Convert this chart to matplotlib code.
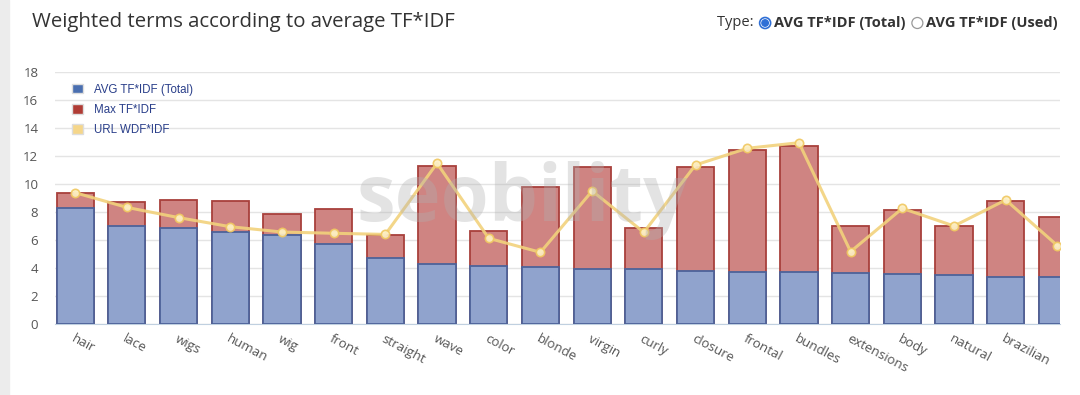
import matplotlib
matplotlib.use("Agg")
import matplotlib.pyplot as plt
from matplotlib.patches import Ellipse, Rectangle
import numpy as np

# data
terms = ["hair", "lace", "wigs", "human", "wig", "front", "straight", "wave",
         "color", "blonde", "virgin", "curly", "closure", "frontal", "bundles",
         "extensions", "body", "natural", "brazilian", ""]
avg_tfidf = [8.26, 7.0, 6.83, 6.6, 6.36, 5.71, 4.74, 4.31, 4.17, 4.07,
             3.95, 3.93, 3.81, 3.69, 3.69, 3.64, 3.57, 3.48, 3.36, 3.33]
max_tfidf = [9.33, 8.74, 8.83, 8.79, 7.86, 8.19, 6.38, 11.31, 6.64, 9.81,
             11.24, 6.88, 11.24, 12.43, 12.74, 7.02, 8.17, 6.98, 8.76, 7.62]
url_wdf = [9.38, 8.33, 7.6, 6.95, 6.57, 6.48, 6.4, 11.48, 6.12, 5.12,
           9.5, 6.55, 11.36, 12.55, 12.95, 5.17, 8.26, 7.0, 8.86, 5.6]
y_ticks = [0, 2, 4, 6, 8, 10, 12, 14, 16, 18]
series_names = ["AVG TF*IDF (Total)", "Max TF*IDF", "URL WDF*IDF"]

W, H = 1080, 395
fig = plt.figure(figsize=(W / 100, H / 100), dpi=100)
fig.patch.set_facecolor("white")

# grey strip on the left side of the page
fig.add_artist(Rectangle((0, 0), 9 / W, 1, transform=fig.transFigure,
                         color="#ececec", zorder=0))

ax = fig.add_axes([55 / W, 71 / H, 1005 / W, 252 / H])
x = np.arange(len(terms))

ax.bar(x, max_tfidf, width=0.72, color="#cf8482", edgecolor="#a8403c",
       linewidth=1.3, zorder=2)
ax.bar(x, avg_tfidf, width=0.72, color="#90a3cd", edgecolor="#4d6299",
       linewidth=1.3, zorder=3)
ax.plot(x, url_wdf, color="#f2d27c", linewidth=2.2, alpha=0.9, zorder=4,
        marker="o", markersize=6, markerfacecolor="#fdf0c6",
        markeredgecolor="#f0c860", markeredgewidth=1.2)

ax.set_xlim(-0.39, 19.05)
ax.set_ylim(0, 18)
ax.set_yticks(y_ticks)
ax.set_yticklabels([str(v) for v in y_ticks], fontsize=9.5, color="#555555",
                   family="Open Sans")
ax.tick_params(axis="y", length=0, pad=12)
ax.grid(axis="y", color="#e4e4e4", linewidth=1, zorder=0)
ax.set_axisbelow(True)
for s in ["top", "right", "left"]:
    ax.spines[s].set_visible(False)
ax.spines["bottom"].set_color("#c0d0e0")

ax.set_xticks(x[:19])
ax.set_xticklabels(terms[:19], rotation=-28, ha="left", va="top",
                   rotation_mode="anchor", fontsize=9.5, color="#555555",
                   family="Open Sans")
ax.tick_params(axis="x", length=0, pad=6)

# watermark
ax.text(0.465, 0.49, "seobility", transform=ax.transAxes, fontsize=56,
        fontweight="bold", color="#b0b0b0", alpha=0.35, ha="center",
        va="center", family="Open Sans", zorder=5)

# legend
leg_colors = ["#4a6fb0", "#b03c35", "#f5d68a"]
leg_handles = [Rectangle((0, 0), 1, 1, facecolor=c, edgecolor="#dddddd")
               for c in leg_colors]
leg = ax.legend(leg_handles, series_names, loc="upper left",
                bbox_to_anchor=(0.007, 0.995), frameon=False,
                handlelength=0.9, handleheight=0.9, labelspacing=0.72,
                handletextpad=1.0, prop={"family": "Liberation Sans", "size": 8.3})
for t in leg.get_texts():
    t.set_color("#2a3f8a")

# title
fig.text(32 / W, 1 - 22 / H, "Weighted terms according to average TF*IDF",
         fontsize=14.7, color="#333333", family="Open Sans", va="center")

# type selector, placed piece by piece from the right edge
fig.canvas.draw()
renderer = fig.canvas.get_renderer()
pieces = [("AVG TF*IDF (Used)", "bold"), ("radio_off", None),
          ("AVG TF*IDF (Total) ", "bold"), ("radio_on", None),
          ("Type: ", "normal")]
xr = 1058
yc = 1 - 23 / H
for txt, weight in pieces:
    if txt.startswith("radio"):
        cx = (xr - 7) / W
        if txt == "radio_on":
            fig.add_artist(Ellipse((cx, yc), 11 / W, 11 / H, transform=fig.transFigure,
                                   facecolor="white", edgecolor="#2f6fd6", lw=1.2))
            fig.add_artist(Ellipse((cx, yc), 6.5 / W, 6.5 / H, transform=fig.transFigure,
                                   color="#2f6fd6"))
        else:
            fig.add_artist(Ellipse((cx, yc), 11 / W, 11 / H, transform=fig.transFigure,
                                   facecolor="white", edgecolor="#999999", lw=0.9))
        xr -= 15
        continue
    t = fig.text(xr / W, yc, txt, fontsize=10.5, fontweight=weight,
                 color="#333333", family="Open Sans", ha="right", va="center")
    bb = t.get_window_extent(renderer)
    xr -= bb.width + (2 if weight == "bold" else 0)

fig.savefig("out.png", dpi=100)
